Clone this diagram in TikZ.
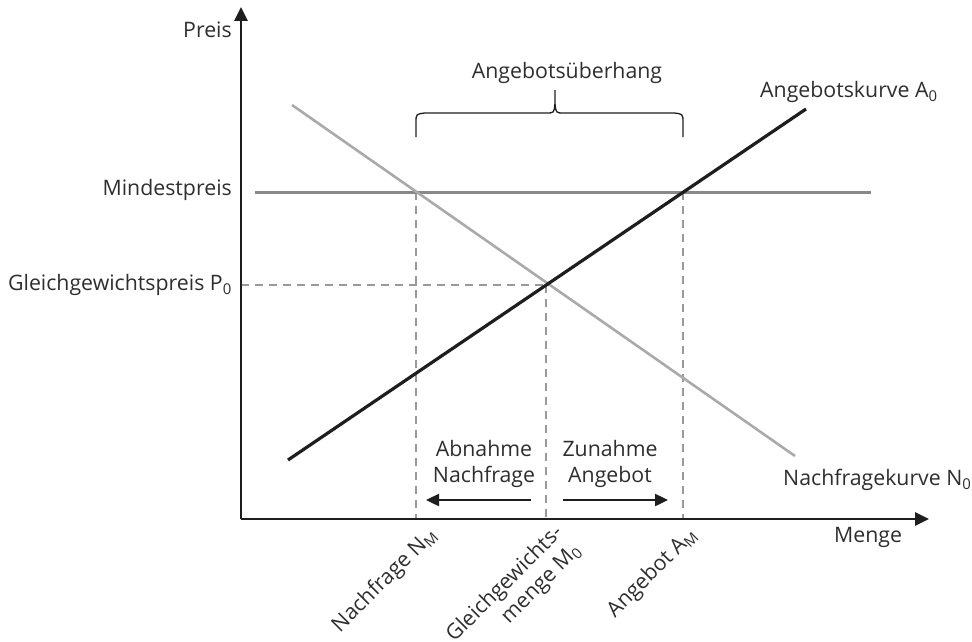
\documentclass[tikz,border=0pt]{standalone}
\usepackage{fontspec}
\setmainfont{Open Sans}
\usetikzlibrary{arrows.meta}
\definecolor{txt}{HTML}{2E2E2E}
\definecolor{axis}{HTML}{1E1E1E}
\definecolor{demand}{HTML}{AAAAAA}
\definecolor{minline}{HTML}{888888}
\definecolor{guide}{HTML}{999999}
\begin{document}
\begin{tikzpicture}[x=1pt,y=-1pt,
  lbl/.style={text=txt,font=\fontsize{21.3}{25.5}\selectfont,inner sep=0pt},
  axisline/.style={draw=axis,line width=2.6pt,-{Triangle[length=14pt,width=13pt]}},
  guideline/.style={draw=guide,line width=2.3pt,dash pattern=on 8pt off 6pt},
  shiftarrow/.style={draw=axis,line width=2.4pt,-{Triangle[length=13pt,width=12pt]}}]
\useasboundingbox (0,0) rectangle (972,642);
% key points
\coordinate (O) at (241,519);
\coordinate (ytop) at (241,7);
\coordinate (xend) at (929,519);
\coordinate (E) at (546,285);
\coordinate (PN) at (416,192);
\coordinate (PA) at (683,192);
\coordinate (baseN) at (416,519);
\coordinate (baseE) at (546,519);
\coordinate (baseA) at (683,519);
\coordinate (pE) at (241,285);
\coordinate (minL) at (255,192);
\coordinate (minR) at (871,192);
\coordinate (sA) at (288,460);
\coordinate (sB) at (806,109);
\coordinate (dA) at (292,105);
\coordinate (dB) at (795,456);
% guide lines
\draw[guideline] (pE) -- (E);
\draw[guideline] (PN) -- (baseN);
\draw[guideline] (E) -- (baseE);
\draw[guideline] (PA) -- (baseA);
% minimum price
\draw[minline,line width=3pt] (minL) -- (minR);
% curves
\draw[demand,line width=2.6pt] (dA) -- (dB);
\draw[axis,line width=3.2pt] (sA) -- (sB);
% axes
\draw[axisline] (O) -- (ytop);
\draw[axisline] (O) -- (xend);
% brace over the surplus
\draw[axis,line width=1.3pt] (416,137) -- (416,123) .. controls (416,114) .. (425,113) -- (546,113)
  .. controls (554,113) .. (555,104) -- (555,90);
\draw[axis,line width=1.3pt] (555,104) .. controls (556,113) .. (564,113) -- (674,113)
  .. controls (683,114) .. (683,123) -- (683,137);
% shift arrows
\coordinate (la1) at (531,500); \coordinate (la2) at (426,500);
\coordinate (ra1) at (563,500); \coordinate (ra2) at (668,500);
\draw[shiftarrow] (la1) -- (la2);
\draw[shiftarrow] (ra1) -- (ra2);
% labels
\node[lbl,anchor=east] (preis) at (232,30) {Preis};
\node[lbl,anchor=east] (mindest) at (232,190) {Mindestpreis};
\node[lbl,anchor=east] (gg) at (232,285) {Gleichgewichtspreis P\textsubscript{0}};
\node[lbl] (ueber) at (567,73) {Angebotsüberhang};
\node[lbl,anchor=west] (akurve) at (760,92) {Angebotskurve A\textsubscript{0}};
\node[lbl,anchor=west] (nkurve) at (783,480) {Nachfragekurve N\textsubscript{0}};
\node[lbl] (menge) at (868,537) {Menge};
\node[lbl,align=center] (abn) at (484,464) {Abnahme\\Nachfrage};
\node[lbl,align=center] (zun) at (610,464) {Zunahme\\Angebot};
\node[lbl,rotate=45,anchor=north east] (nm) at (426,524) {Nachfrage N\textsubscript{M}};
\node[lbl,rotate=45,anchor=north east,align=right] (mo) at (552,522) {Gleichgewichts-\\menge M\textsubscript{0}};
\node[lbl,rotate=45,anchor=north east] (am) at (686,524) {Angebot A\textsubscript{M}};
\end{tikzpicture}
\end{document}
